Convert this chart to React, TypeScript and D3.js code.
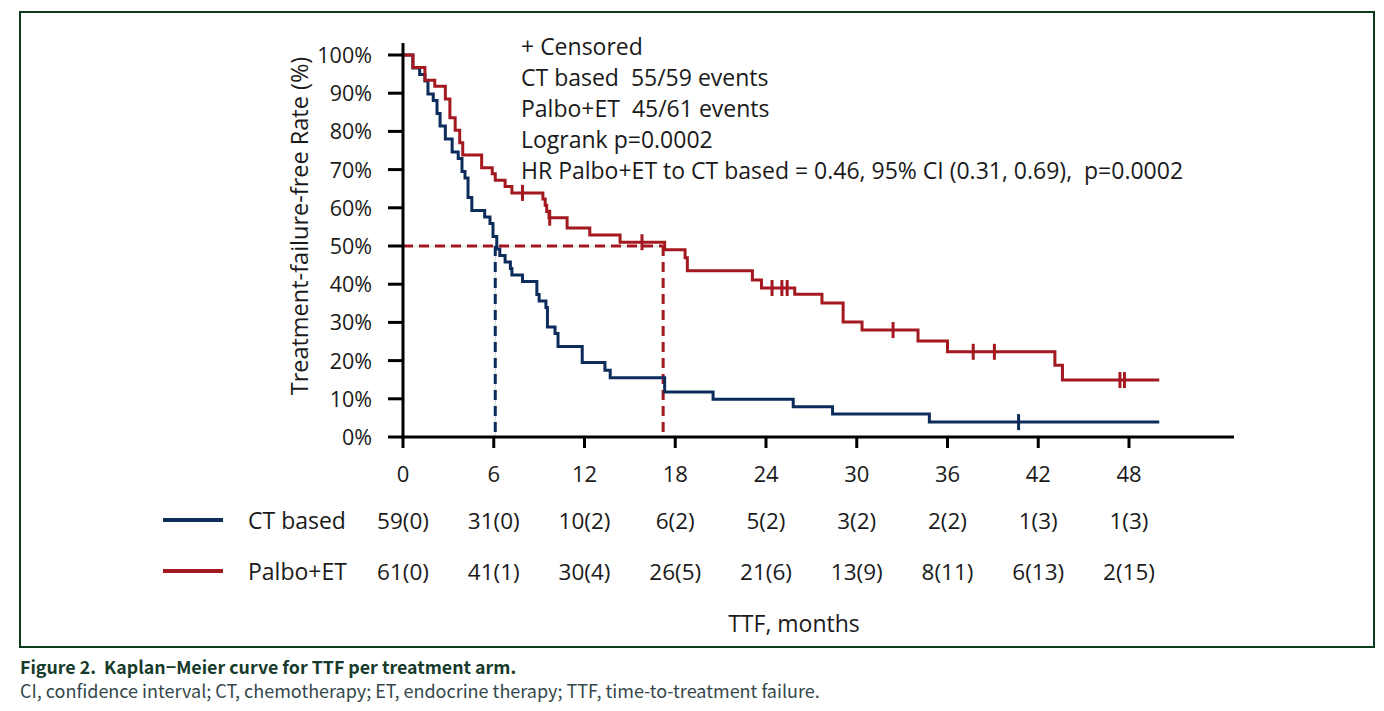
import React from "react";
import * as d3 from "d3";

// Kaplan-Meier steps: time in months, survival % after the step
const ctTimes = [0.65, 1.1, 1.45, 1.65, 2.0, 2.25, 2.45, 2.8, 3.25, 3.65, 3.9, 4.1, 4.3, 4.55, 5.4, 5.75, 5.95, 6.2, 6.4, 6.75, 7.1, 7.2, 7.9, 8.85, 9.0, 9.45, 9.55, 10.05, 10.25, 11.85, 13.35, 13.7, 17.3, 20.5, 25.8, 28.4, 34.8];
const ctSurv = [96.6, 94.9, 93.2, 89.8, 88.1, 84.7, 81.4, 78.0, 74.6, 72.9, 69.5, 67.8, 62.7, 59.3, 57.6, 55.9, 52.5, 49.2, 47.5, 45.8, 44.1, 42.4, 40.7, 37.3, 35.6, 33.9, 28.8, 27.1, 23.7, 19.5, 17.5, 15.5, 11.8, 9.9, 7.9, 6.0, 3.9];
const ctCensored = [40.7];
const ctEnd = 50.0;

const palboTimes = [0.66, 1.45, 2.1, 2.8, 3.1, 3.45, 3.75, 3.95, 5.2, 5.9, 6.1, 6.75, 7.2, 9.25, 9.4, 9.5, 9.65, 10.85, 12.35, 14.35, 17.3, 18.65, 18.8, 23.1, 23.7, 25.9, 27.7, 29.1, 30.35, 34.05, 36.0, 43.1, 43.6];
const palboSurv = [96.7, 93.4, 91.8, 88.5, 83.6, 80.3, 77.0, 73.8, 70.5, 68.9, 67.2, 65.6, 63.9, 62.3, 60.7, 59.0, 57.4, 54.7, 52.9, 51.0, 49.0, 46.9, 43.5, 41.1, 39.0, 37.4, 35.1, 30.1, 28.0, 25.1, 22.3, 18.8, 14.9];
const palboCensored = [7.9, 9.7, 15.8, 24.4, 25.05, 25.4, 32.4, 37.7, 39.1, 47.4, 47.7];
const palboEnd = 50.0;

const medians = [6.1, 17.2]; // CT based, Palbo+ET

const xTicks = [0, 6, 12, 18, 24, 30, 36, 42, 48];
const yTicks = [0, 10, 20, 30, 40, 50, 60, 70, 80, 90, 100];

const ctAtRisk = ["59(0)", "31(0)", "10(2)", "6(2)", "5(2)", "3(2)", "2(2)", "1(3)", "1(3)"];
const palboAtRisk = ["61(0)", "41(1)", "30(4)", "26(5)", "21(6)", "13(9)", "8(11)", "6(13)", "2(15)"];

const legendLines = [
  "+ Censored",
  "CT based  55/59 events",
  "Palbo+ET  45/61 events",
  "Logrank p=0.0002",
  "HR Palbo+ET to CT based = 0.46, 95% CI (0.31, 0.69),  p=0.0002",
];

const BLUE = "#0c2d5c";
const RED = "#a3191f";
const FONT = "'Open Sans', sans-serif";
const INK = "#1a1a1a";

const W = 1384;
const H = 711;

const x = d3.scaleLinear().domain([0, 48]).range([403, 1129]);
const y = d3.scaleLinear().domain([0, 100]).range([437, 55]);

const stepLine = d3
  .line<[number, number]>()
  .x(d => x(d[0]))
  .y(d => y(d[1]))
  .curve(d3.curveStepAfter);

function kmPoints(times: number[], surv: number[], end: number): [number, number][] {
  const pts: [number, number][] = [[0, 100]];
  times.forEach((t, i) => pts.push([t, surv[i]]));
  pts.push([end, surv[surv.length - 1]]);
  return pts;
}

function survAt(times: number[], surv: number[], t: number) {
  let s = 100;
  times.forEach((tt, i) => {
    if (tt <= t) s = surv[i];
  });
  return s;
}

const Curve = ({ times, surv, end, censored, color }) => {
  const pts = kmPoints(times, surv, end);
  return (
    <g>
      <path d={stepLine(pts) || ""} fill="none" stroke={color} strokeWidth={3} />
      {censored.map((c, i) => {
        const cy = y(survAt(times, surv, c));
        return <line key={i} x1={x(c)} x2={x(c)} y1={cy - 8} y2={cy + 8} stroke={color} strokeWidth={3} />;
      })}
    </g>
  );
};

const App = () => {
  const y50 = y(50);
  return (
    <div style={{ position: "absolute", left: 0, top: 0 }}>
      <svg width={W} height={H} style={{ display: "block", background: "#fff" }}>
        <rect x={20} y={12} width={1354} height={635} fill="none" stroke="#0b3a1c" strokeWidth={2} />

        {/* median guides */}
        <line x1={x(0)} x2={x(medians[1])} y1={y50} y2={y50} stroke="#c9d3de" strokeWidth={1} />
        <line x1={x(medians[0])} x2={x(medians[0])} y1={y50} y2={y(0)} stroke="#c9d3de" strokeWidth={1} />
        <line x1={x(0)} x2={x(medians[1])} y1={y50} y2={y50} stroke={RED} strokeWidth={3} strokeDasharray="10,6" />
        <line x1={x(medians[1])} x2={x(medians[1])} y1={y50} y2={y(0)} stroke={RED} strokeWidth={3} strokeDasharray="10,6" />
        <line x1={x(medians[0])} x2={x(medians[0])} y1={y50} y2={y(0)} stroke={BLUE} strokeWidth={3} strokeDasharray="10,6" />

        <Curve times={ctTimes} surv={ctSurv} end={ctEnd} censored={ctCensored} color={BLUE} />
        <Curve times={palboTimes} surv={palboSurv} end={palboEnd} censored={palboCensored} color={RED} />

        {/* axes */}
        <line x1={x(0)} x2={x(0)} y1={43} y2={y(0) + 1.5} stroke="#000" strokeWidth={3} />
        <line x1={x(0) - 1.5} x2={1234} y1={y(0)} y2={y(0)} stroke="#000" strokeWidth={3} />
        {yTicks.map(t => (
          <g key={t}>
            <line x1={388} x2={x(0)} y1={y(t)} y2={y(t)} stroke="#000" strokeWidth={3} />
            <text x={372} y={y(t) + 8} textAnchor="end" fontFamily={FONT} fontSize={21.5} fill={INK}>
              {t}%
            </text>
          </g>
        ))}
        {xTicks.map(t => (
          <g key={t}>
            <line x1={x(t)} x2={x(t)} y1={y(0)} y2={y(0) + 11} stroke="#000" strokeWidth={3} />
            <text x={x(t)} y={482} textAnchor="middle" fontFamily={FONT} fontSize={22} fill={INK}>
              {t}
            </text>
          </g>
        ))}
        <text
          transform="translate(308,226) rotate(-90)"
          textAnchor="middle"
          fontFamily={FONT}
          fontSize={23.5}
          fill={INK}
        >
          Treatment-failure-free Rate (%)
        </text>

        {legendLines.map((s, i) => (
          <text key={i} x={521} y={55 + i * 31} fontFamily={FONT} fontSize={23} fill={INK} style={{ whiteSpace: "pre" }}>
            {s}
          </text>
        ))}

        {/* number at risk */}
        <line x1={163} x2={223} y1={520} y2={520} stroke={BLUE} strokeWidth={4} />
        <line x1={163} x2={223} y1={571} y2={571} stroke={RED} strokeWidth={4} />
        <text x={248} y={529} fontFamily={FONT} fontSize={23} fill={INK}>CT based</text>
        <text x={248} y={580} fontFamily={FONT} fontSize={23} fill={INK}>Palbo+ET</text>
        {xTicks.map((t, i) => (
          <g key={t}>
            <text x={x(t)} y={529} textAnchor="middle" fontFamily={FONT} fontSize={22.5} fill={INK}>
              {ctAtRisk[i]}
            </text>
            <text x={x(t)} y={580} textAnchor="middle" fontFamily={FONT} fontSize={22.5} fill={INK}>
              {palboAtRisk[i]}
            </text>
          </g>
        ))}
        <text x={794} y={632} textAnchor="middle" fontFamily={FONT} fontSize={23} fill={INK}>
          TTF, months
        </text>

        {/* caption */}
        <text x={20} y={674} fontFamily="'Noto Sans CJK KR', sans-serif" fontWeight="bold" fontSize={17.8} fill="#163a2b" style={{ whiteSpace: "pre" }}>
          Figure 2.  Kaplan−Meier curve for TTF per treatment arm.
        </text>
        <text x={20} y={698} fontFamily="'Noto Sans CJK KR', sans-serif" fontSize={18} fill="#34474a">
          CI, confidence interval; CT, chemotherapy; ET, endocrine therapy; TTF, time-to-treatment failure.
        </text>
      </svg>
    </div>
  );
};

export default App;
